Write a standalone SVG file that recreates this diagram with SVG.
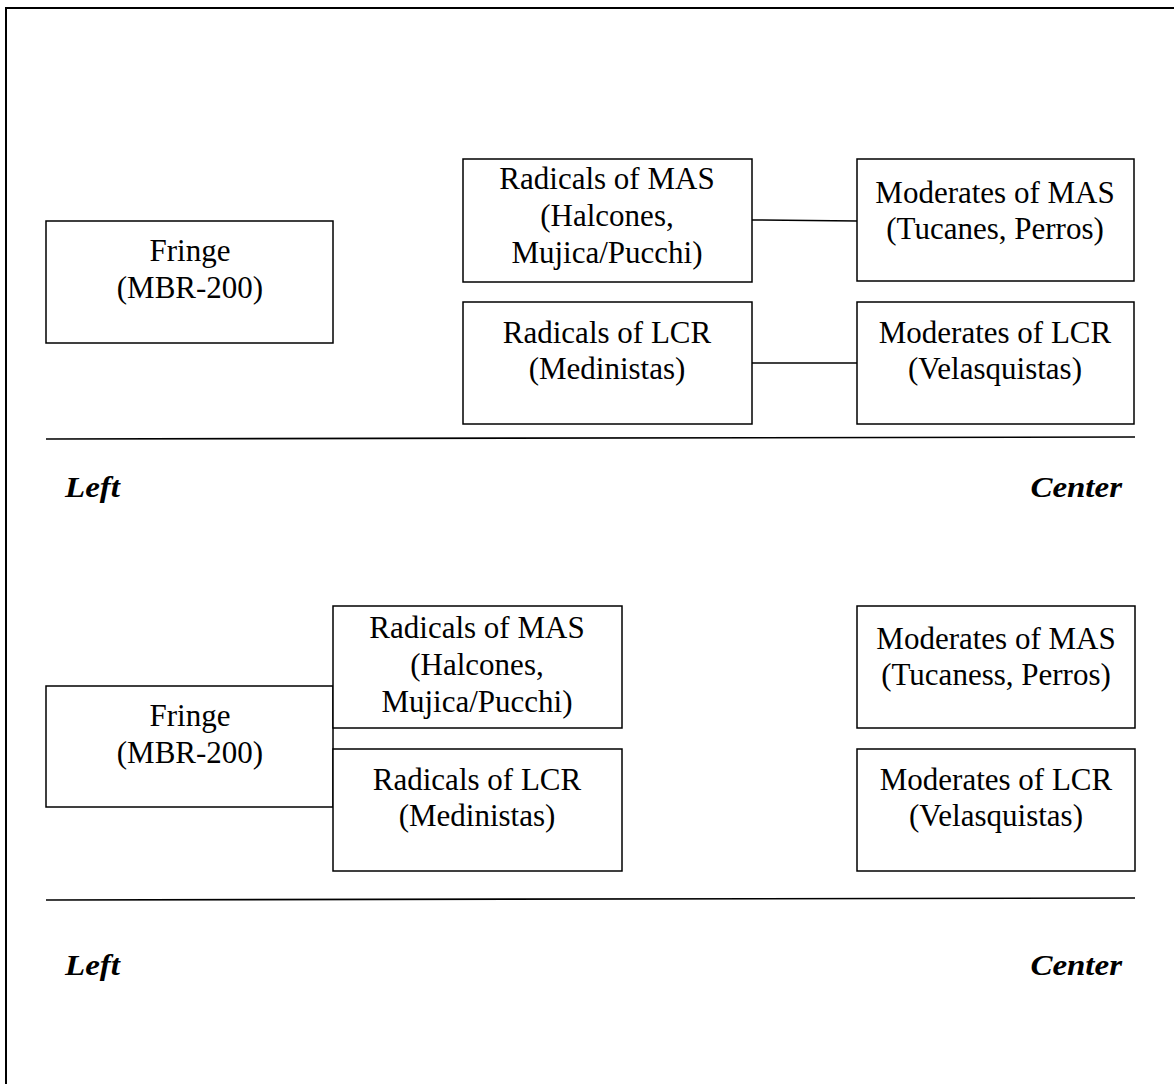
<svg xmlns="http://www.w3.org/2000/svg" width="1174" height="1084" viewBox="0 0 1174 1084">
<style>
.box{fill:#fff;stroke:#000;stroke-width:1.5}
.frame{fill:none;stroke:#000;stroke-width:2}
.rule{stroke:#000;stroke-width:1.6}
.con{stroke:#000;stroke-width:1.5;fill:none}
.t{font-family:"Liberation Serif","Times New Roman",serif;font-size:31px;text-anchor:middle;fill:#000}
.ax{font-family:"Liberation Serif","Times New Roman",serif;font-size:30px;font-weight:bold;font-style:italic;fill:#000}
</style>
<rect width="1174" height="1084" fill="#fff"/>
<rect class="frame" x="6" y="8" width="1190" height="1100"/>

<g id="connectors">
<line class="con" x1="752" y1="220" x2="857" y2="221"/>
<line class="con" x1="752" y1="363" x2="857" y2="363"/>
</g>

<!-- Top panel -->
<g id="top-fringe">
<rect class="box" x="46" y="221" width="287" height="122"/>
<text class="t" x="190" y="261">Fringe<tspan x="190" dy="37">(MBR-200)</tspan></text>
</g>
<g id="top-radicals-mas">
<rect class="box" x="463" y="159" width="289" height="123"/>
<text class="t" x="607" y="189">Radicals of MAS<tspan x="607" dy="37">(Halcones,</tspan><tspan x="607" dy="37">Mujica/Pucchi)</tspan></text>
</g>
<g id="top-radicals-lcr">
<rect class="box" x="463" y="302" width="289" height="122"/>
<text class="t" x="607" y="343">Radicals of LCR<tspan x="607" dy="36">(Medinistas)</tspan></text>
</g>
<g id="top-moderates-mas">
<rect class="box" x="857" y="159" width="277" height="122"/>
<text class="t" x="995" y="203">Moderates of MAS<tspan x="995" dy="36">(Tucanes, Perros)</tspan></text>
</g>
<g id="top-moderates-lcr">
<rect class="box" x="857" y="302" width="277" height="122"/>
<text class="t" x="995" y="343">Moderates of LCR<tspan x="995" dy="36">(Velasquistas)</tspan></text>
</g>
<g id="top-axis">
<line class="rule" x1="46" y1="439" x2="1135" y2="437"/>
<text class="ax" transform="translate(65,497) scale(1.1,1)">Left</text>
<text class="ax" text-anchor="end" transform="translate(1122,497) scale(1.1,1)">Center</text>
</g>

<!-- Bottom panel -->
<g id="bottom-fringe">
<rect class="box" x="46" y="686" width="287" height="121"/>
<text class="t" x="190" y="726">Fringe<tspan x="190" dy="37">(MBR-200)</tspan></text>
</g>
<g id="bottom-radicals-mas">
<rect class="box" x="333" y="606" width="289" height="122"/>
<text class="t" x="477" y="638">Radicals of MAS<tspan x="477" dy="37">(Halcones,</tspan><tspan x="477" dy="37">Mujica/Pucchi)</tspan></text>
</g>
<g id="bottom-radicals-lcr">
<rect class="box" x="333" y="749" width="289" height="122"/>
<text class="t" x="477" y="790">Radicals of LCR<tspan x="477" dy="36">(Medinistas)</tspan></text>
</g>
<g id="bottom-moderates-mas">
<rect class="box" x="857" y="606" width="278" height="122"/>
<text class="t" x="996" y="649">Moderates of MAS<tspan x="996" dy="36">(Tucaness, Perros)</tspan></text>
</g>
<g id="bottom-moderates-lcr">
<rect class="box" x="857" y="749" width="278" height="122"/>
<text class="t" x="996" y="790">Moderates of LCR<tspan x="996" dy="36">(Velasquistas)</tspan></text>
</g>
<g id="bottom-axis">
<line class="rule" x1="46" y1="900" x2="1135" y2="898"/>
<text class="ax" transform="translate(65,975) scale(1.1,1)">Left</text>
<text class="ax" text-anchor="end" transform="translate(1122,975) scale(1.1,1)">Center</text>
</g>
</svg>
